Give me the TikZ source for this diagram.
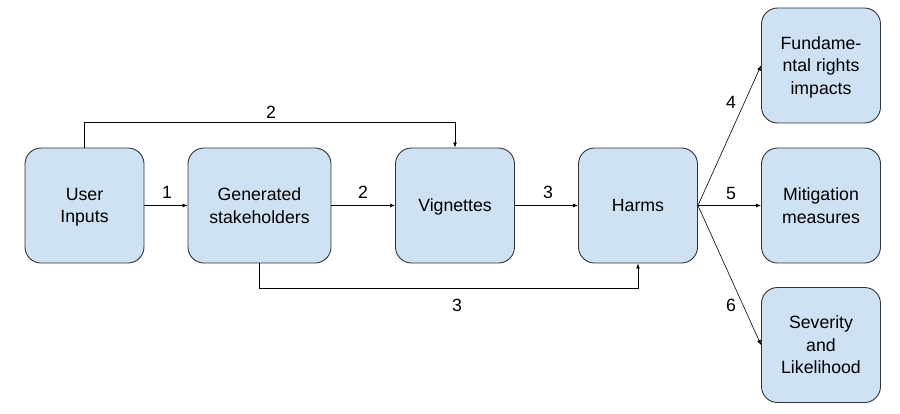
\documentclass[tikz,border=0pt]{standalone}
\usepackage{fontspec}
\setmainfont{Liberation Sans}
\usetikzlibrary{arrows.meta}
\definecolor{boxfill}{HTML}{CFE2F3}
\definecolor{boxline}{HTML}{333333}
\begin{document}
\begin{tikzpicture}[x=1pt,y=-1pt,
  box/.style={draw=boxline,fill=boxfill,line width=0.9pt,rounded corners=16pt,
    minimum width=#1,minimum height=115pt,inner sep=0pt,align=center,text depth=0pt,
    font=\fontsize{17.7}{22.5}\selectfont},
  box/.default=119pt,
  conn/.style={line width=0.8pt,-{Latex[length=5pt,width=4pt]}},
  lbl/.style={font=\fontsize{17.7}{20}\selectfont,inner sep=0pt}]
\useasboundingbox (0,0) rectangle (900,413);
\node[box] (ui) at (84.5,205.5) {User\\Inputs};
\node[box=143pt] (gs) at (259.5,205.5) {Generated\\stakeholders};
\node[box] (vi) at (455,205.5) {Vignettes};
\node[box] (ha) at (638,205.5) {Harms};
\node[box] (fr) at (821,65.5) {Fundame-\\ntal rights\\impacts};
\node[box] (mm) at (821,205.5) {Mitigation\\measures};
\node[box] (sl) at (821,345) {Severity\\and\\Likelihood};
\draw[conn] (ui.east) -- (gs.west);
\draw[conn] (gs.east) -- (vi.west);
\draw[conn] (vi.east) -- (ha.west);
\draw[conn] (ui.north) -- ++(0,-25) -| (vi.north);
\draw[conn] (gs.south) -- ++(0,25) -| (ha.south);
\draw[conn,line width=0.6pt] (ha.east) -- (fr.west);
\draw[conn] (ha.east) -- (mm.west);
\draw[conn,line width=0.6pt] (ha.east) -- (sl.west);
\node[lbl] (l1) at (167,192) {1};
\node[lbl] (l2) at (363,192) {2};
\node[lbl] (l2b) at (271,112) {2};
\node[lbl] (l3) at (548,192) {3};
\node[lbl] (l3b) at (457,305) {3};
\node[lbl] (l4) at (731,102) {4};
\node[lbl] (l5) at (731,193) {5};
\node[lbl] (l6) at (731,305) {6};
\end{tikzpicture}
\end{document}
